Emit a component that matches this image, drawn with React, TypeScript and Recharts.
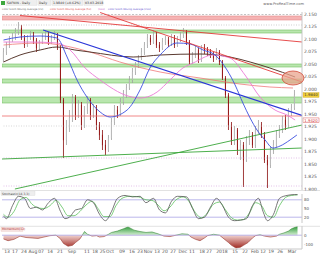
import React from 'react';
import { ComposedChart, Bar, Line, Area, XAxis, YAxis, ReferenceLine, ReferenceArea, ReferenceDot } from 'recharts';

// ---- price candles (daily) ----
const opens = [2.058,2.074,2.088,2.098,2.106,2.114,2.122,2.102,2.088,2.102,
2.108,2.098,2.082,2.094,2.104,2.108,2.094,2.102,2.106,2.082,
1.978,1.898,1.922,1.942,1.982,1.948,1.968,1.928,1.958,1.978,
1.948,1.962,1.928,1.908,1.888,1.878,1.902,1.934,1.958,1.950,
1.974,1.988,2.002,2.018,2.034,2.048,2.062,2.074,2.088,2.102,
2.094,2.108,2.088,2.082,2.094,2.098,2.090,2.102,2.088,2.098,
2.108,2.114,2.094,2.054,2.068,2.078,2.058,2.082,2.078,2.074,
2.068,2.062,2.074,2.054,2.022,1.988,1.928,1.898,1.918,1.878,
1.888,1.858,1.898,1.908,1.888,1.918,1.928,1.908,1.858,1.848,
1.878,1.888,1.908,1.918,1.938,1.928,1.954,1.962];
const closes = [2.074,2.088,2.098,2.106,2.114,2.122,2.102,2.088,2.102,2.108,
2.098,2.082,2.094,2.104,2.108,2.094,2.102,2.106,2.082,1.978,
1.898,1.922,1.942,1.982,1.948,1.968,1.928,1.958,1.978,1.948,
1.962,1.928,1.908,1.888,1.878,1.902,1.934,1.958,1.950,1.974,
1.988,2.002,2.018,2.034,2.048,2.062,2.074,2.088,2.102,2.094,
2.108,2.088,2.082,2.094,2.098,2.090,2.102,2.088,2.098,2.108,
2.114,2.094,2.054,2.068,2.078,2.058,2.082,2.078,2.074,2.068,
2.062,2.074,2.054,2.022,1.988,1.928,1.898,1.918,1.878,1.888,
1.858,1.898,1.908,1.888,1.918,1.928,1.908,1.858,1.848,1.878,
1.888,1.908,1.918,1.938,1.928,1.954,1.962,1.988];
const highs = [2.082,2.094,2.106,2.112,2.122,2.134,2.128,2.108,2.108,2.116,
2.114,2.102,2.098,2.112,2.118,2.114,2.108,2.116,2.112,2.088,
1.982,1.938,1.958,1.990,1.988,1.978,1.974,1.966,1.986,1.982,
1.970,1.968,1.934,1.918,1.898,1.908,1.942,1.968,1.966,1.982,
1.998,2.010,2.026,2.042,2.054,2.068,2.082,2.094,2.110,2.108,
2.118,2.114,2.094,2.102,2.106,2.104,2.110,2.108,2.106,2.114,
2.122,2.118,2.098,2.074,2.086,2.082,2.088,2.090,2.084,2.080,
2.074,2.082,2.078,2.058,2.026,1.992,1.934,1.926,1.922,1.898,
1.894,1.906,1.918,1.914,1.926,1.938,1.934,1.914,1.868,1.886,
1.898,1.918,1.928,1.946,1.948,1.962,1.970,1.998];
const lows = [2.054,2.068,2.082,2.094,2.098,2.108,2.098,2.082,2.084,2.098,
2.090,2.074,2.078,2.090,2.098,2.088,2.090,2.098,2.078,1.972,
1.862,1.888,1.914,1.934,1.938,1.942,1.918,1.922,1.950,1.938,
1.942,1.918,1.898,1.878,1.868,1.874,1.898,1.928,1.942,1.946,
1.968,1.982,1.998,2.012,2.028,2.042,2.058,2.068,2.082,2.088,
2.090,2.082,2.074,2.078,2.088,2.084,2.086,2.082,2.084,2.094,
2.102,2.088,2.048,2.050,2.062,2.052,2.054,2.070,2.066,2.062,
2.054,2.058,2.048,2.018,1.982,1.918,1.888,1.888,1.868,1.858,
1.804,1.854,1.888,1.882,1.882,1.910,1.902,1.852,1.802,1.842,
1.870,1.882,1.902,1.912,1.918,1.922,1.946,1.958];

// ---- moving averages (read at sample points) ----
const maBlueIdx = [0,5.5,12.2,17.8,21.2,24.5,27.8,32.2,35.5,41.2,45.5,48.8,52.2,57.8,62.2,66.5,70.5,74.5,77.2,79.8,82.2,84.5,87.2,89.8,92.2,95.5,97.8];
const maBlueVal = [2.098,2.104,2.106,2.102,2.064,2.018,1.984,1.954,1.944,1.958,1.998,2.042,2.068,2.092,2.090,2.078,2.068,2.038,2.008,1.972,1.942,1.918,1.898,1.882,1.886,1.898,1.908];
const maPinkIdx = [0,8.8,17.8,22.2,27.2,32.2,35.5,40.5,45.5,48.8,51.2,55.5,59.8,63.2,69.8,75.5,80.5,85.5,90.5,94.5,97.2];
const maPinkVal = [2.094,2.094,2.092,2.078,2.042,2.018,2.004,1.988,1.982,1.986,1.994,2.018,2.042,2.052,2.068,2.062,2.028,1.984,1.958,1.948,1.938];
const maDarkIdx = [0,5.5,12.2,17.8,23.8,28.8,43.2,52.2,65.5,75.5,82.2,88.8,97.2];
const maDarkVal = [2.054,2.068,2.078,2.084,2.078,2.074,2.064,2.068,2.070,2.064,2.054,2.042,2.024];
const maRedIdx = [0,12.2,18.8,28.8,38.8,52.2,65.5,78.8,88.8,96.5];
const maRedVal = [2.088,2.092,2.088,2.074,2.054,2.034,2.022,2.010,2.004,2.002];

// ---- stochastic ----
const stochKIdx = [0,1,3,5,7,9,11,13,15,17,19,20.5,22,24,26,28,30,32,34,36,38,40.5,43,45.5,47.5,50,52,54,56,58,61,63,65,67,69,71,73,75,77,79,81,83,85,86.5,88,90,92,94.5,97,98];
const stochKVal = [25,15,60,92,85,50,55,45,70,85,40,15,20,45,50,80,70,30,8,40,85,95,90,92,70,85,45,35,75,92,90,50,15,20,55,85,60,20,8,10,15,60,85,40,8,30,85,95,98,98];
const stochDIdx = [0,1.5,3.5,5.5,7.5,9.5,11.5,13.5,15.5,17.5,19.5,21.5,23.5,25.5,27.5,29.5,31.5,33.5,35.5,37.5,39.5,42,45,47.5,49.5,51.5,53.5,55.5,57.5,60,62,64,66,68,70,72,74,76,78,80,82,84,86,88,90,92,94,96,98];
const stochDVal = [30,20,40,80,88,65,52,50,60,78,55,25,25,40,62,75,50,22,22,60,85,92,90,80,78,62,42,55,80,90,72,35,18,35,65,72,45,18,10,12,35,70,60,25,20,60,88,95,97];

// ---- momentum ----
const momIdx = [0,1.5,3.5,5.5,7.5,9.5,11.5,13.5,15.5,17.5,19,20,21.5,23,24,25.5,27,28,29.5,31,32,33.5,35,36,38,40,41.5,43.5,45.5,47.5,49.5,51.5,53.5,55.5,57.5,59.5,61.5,62.5,64,65.5,67,68,70,72,73.5,75,76,77.5,79,80,81.5,83,84,85.5,87,89,91,92,93.5,95,96,97.5,98];
const momVal = [-40,-60,-45,-10,-25,-30,-35,-20,-5,0,-40,-90,-120,-110,-80,-40,40,10,-10,-5,-20,-15,10,30,45,70,90,55,40,30,35,15,-10,-15,0,15,10,-20,-45,-60,-30,-5,10,0,-40,-80,-110,-140,-130,-110,-80,-30,-5,5,-10,-20,-10,10,25,45,70,90,95];

// ---- axis ticks ----
const priceTicks = [2.150,2.125,2.100,2.075,2.050,2.025,2.000,1.975,1.950,1.925,1.900,1.875,1.850,1.825,1.800];
const dateTickIdx = [1.2,3.8,6.8,9.8,12.5,15.5,18.8,22.8,27.8,30.5,33,35.5,39.5,42.8,45.5,48.2,51.2,53.8,56.5,59.8,62.8,66.2,68.5,72.8,77.2,80.5,83.8,86.5,89.2,92.2,96.2];
const dateTickLabels = ["13","17","24","Aug","07","14","21","Sep","11","18","25","Oct","09","16","23","Nov","13","20","27","Dec","11","18","27","2018","15","22","Feb","12","19","26","Mar"];

const candles = closes.map((c, i) => ({ i, open: opens[i], high: highs[i], low: lows[i], close: c }));
const pts = (idx: number[], val: number[]) => idx.map((x, k) => ({ i: x, v: val[k] }));
const maBlue = pts(maBlueIdx, maBlueVal);
const maPink = pts(maPinkIdx, maPinkVal);
const maDark = pts(maDarkIdx, maDarkVal);
const maRed = pts(maRedIdx, maRedVal);
const stochK = pts(stochKIdx, stochKVal);
const stochD = pts(stochDIdx, stochDVal);
const mom = pts(momIdx, momVal);
const dateLabelMap = new Map(dateTickIdx.map((x, k) => [x, dateTickLabels[k]]));

const X_DOMAIN: [number, number] = [-0.5, 99.5];
const FONT = 'DejaVu Sans, sans-serif';

const Candle = (props: any) => {
  const { x, y, width, height, payload } = props;
  if (!payload || height == null) return null;
  const { open, close, high, low } = payload;
  const range = high - low || 1e-9;
  const ppu = height / range;
  const up = close >= open;
  const top = y + (high - Math.max(open, close)) * ppu;
  const bh = Math.max(1, Math.abs(open - close) * ppu);
  const cx = x + width / 2;
  const col = up ? '#a0a0a0' : '#8a0c0c';
  return (
    <g>
      <line x1={cx} x2={cx} y1={y} y2={y + height} stroke={col} strokeWidth={0.8} />
      <rect x={x} y={top} width={width} height={bh} fill={up ? '#efefef' : '#a81818'} stroke={col} strokeWidth={0.5} />
    </g>
  );
};

const LevelTag = ({ viewBox, text, bg, fg, border }: any) => {
  if (!viewBox) return null;
  const x = viewBox.x + viewBox.width + 1;
  const y = viewBox.y;
  return (
    <g>
      <rect x={x} y={y - 2.3} width={16} height={4.6} fill={bg} stroke={border} strokeWidth={0.4} />
      <text x={x + 8} y={y + 1.4} fontSize={3.8} fill={fg} textAnchor="middle" fontFamily={FONT}>{text}</text>
    </g>
  );
};

const Ellipse = (p: any) => (
  <ellipse cx={p.cx} cy={p.cy} rx={11} ry={7} fill="#e9a48e" fillOpacity={0.75} stroke="#d24a3a" strokeWidth={0.8} />
);

const greenBand = { fill: '#b9e6ae', fillOpacity: 1, stroke: '#74c062', strokeWidth: 0.6 };

export default function App() {
  return (
    <div style={{ position: 'absolute', left: 0, top: 0, width: 320, height: 256, background: '#fff', overflow: 'hidden' }}>
      <svg width={0} height={0} style={{ position: 'absolute' }}>
        <defs>
          <linearGradient id="momFill" x1="0" y1="0" x2="0" y2="1">
            <stop offset="0" stopColor="#2e9a3a" stopOpacity={1} />
            <stop offset="0.404" stopColor="#d6efd2" stopOpacity={1} />
            <stop offset="0.404" stopColor="#f1d3d0" stopOpacity={1} />
            <stop offset="1" stopColor="#a02a22" stopOpacity={1} />
          </linearGradient>
          <linearGradient id="momStroke" x1="0" y1="0" x2="0" y2="1">
            <stop offset="0.404" stopColor="#3b8a3b" />
            <stop offset="0.404" stopColor="#9a3a32" />
          </linearGradient>
        </defs>
      </svg>

      {/* main price panel */}
      <div style={{ position: 'absolute', left: 0, top: 0 }}>
        <ComposedChart width={320} height={192} data={candles} margin={{ top: 12, right: 0, bottom: 2, left: 2 }}>
          <XAxis dataKey="i" type="number" domain={X_DOMAIN} hide allowDataOverflow />
          <YAxis orientation="right" type="number" domain={[1.798, 2.154]} ticks={priceTicks} interval={0}
            tickFormatter={(v: number) => v.toFixed(3)} width={18} tick={{ fontSize: 4.5, fill: '#555', fontFamily: FONT }}
            tickSize={0} tickMargin={2} axisLine={{ stroke: '#c8c8c8' }} allowDataOverflow />

          <ReferenceArea y1={2.138} y2={2.146} fill="#f5b3b3" fillOpacity={1} stroke="#e58c8c" strokeWidth={0.6} ifOverflow="hidden" />
          <ReferenceArea y1={2.112} y2={2.118} {...greenBand} ifOverflow="hidden" />
          <ReferenceArea y1={2.044} y2={2.050} {...greenBand} ifOverflow="hidden" />
          <ReferenceArea y1={2.012} y2={2.020} {...greenBand} ifOverflow="hidden" />
          <ReferenceArea y1={1.972} y2={1.984} {...greenBand} ifOverflow="hidden" />

          <ReferenceLine y={2.149} stroke="#9a9a9a" strokeDasharray="2 1.5" strokeWidth={0.6} />
          <ReferenceLine y={2.128} stroke="#b0b0b0" strokeDasharray="1 1.5" strokeWidth={0.6} />
          <ReferenceLine y={1.926} stroke="#bcbcbc" strokeDasharray="1 1.5" strokeWidth={0.6} />
          <ReferenceLine y={1.862} stroke="#d7a6e0" strokeDasharray="1 1.5" strokeWidth={0.7} />
          <ReferenceLine y={1.806} stroke="#d7a6e0" strokeDasharray="1 1.5" strokeWidth={0.7} />
          <ReferenceLine y={1.946} stroke="#ee6a6a" strokeWidth={0.8} />

          <ReferenceLine segment={[{ x: 3.8, y: 1.800 }, { x: 99.5, y: 1.928 }]} stroke="#3aa63a" strokeWidth={0.9} ifOverflow="hidden" />
          <ReferenceLine segment={[{ x: -0.5, y: 1.860 }, { x: 99.5, y: 1.882 }]} stroke="#3aa63a" strokeWidth={0.9} ifOverflow="hidden" />

          <Line data={maRed} dataKey="v" type="monotone" stroke="#f07878" strokeWidth={0.8} dot={false} isAnimationActive={false} />
          <Line data={maDark} dataKey="v" type="monotone" stroke="#5a3a30" strokeWidth={1} dot={false} isAnimationActive={false} />
          <Line data={maPink} dataKey="v" type="monotone" stroke="#ec7ad6" strokeWidth={0.9} dot={false} isAnimationActive={false} />
          <Line data={maBlue} dataKey="v" type="monotone" stroke="#3b4fe0" strokeWidth={0.9} dot={false} isAnimationActive={false} />

          <ReferenceLine segment={[{ x: 5.5, y: 2.147 }, { x: 99.5, y: 2.094 }]} stroke="#e43a3a" strokeWidth={0.9} ifOverflow="hidden" />
          <ReferenceLine segment={[{ x: 32.2, y: 2.153 }, { x: 99.5, y: 2.014 }]} stroke="#e43a3a" strokeWidth={0.9} ifOverflow="hidden" />
          <ReferenceLine segment={[{ x: 13.2, y: 2.118 }, { x: 99.5, y: 1.947 }]} stroke="#2a36d8" strokeWidth={1.2} ifOverflow="hidden" />

          <Bar dataKey={(d: any) => [d.low, d.high]} shape={<Candle />} barSize={2} isAnimationActive={false} />

          <ReferenceDot x={96.5} y={2.022} r={7} shape={<Ellipse />} ifOverflow="visible" />

          <ReferenceLine y={1.988} stroke="none" label={<LevelTag text="1.9840" bg="#f2cf3a" fg="#333" border="#c9a520" />} />
          <ReferenceLine y={1.9375} stroke="none" label={<LevelTag text="1.9420" bg="#ffffff" fg="#d03030" border="#d03030" />} />
        </ComposedChart>
      </div>

      {/* stochastic panel */}
      <div style={{ position: 'absolute', left: 0, top: 190 }}>
        <ComposedChart width={320} height={36} data={stochK} margin={{ top: 4, right: 0, bottom: 3, left: 2 }}>
          <XAxis dataKey="i" type="number" domain={X_DOMAIN} hide allowDataOverflow />
          <YAxis orientation="right" type="number" domain={[0, 100]} ticks={[20, 50, 80]} interval={0} width={18}
            tick={{ fontSize: 4, fill: '#555', fontFamily: FONT }} tickSize={0} tickMargin={2} axisLine={{ stroke: '#c8c8c8' }} allowDataOverflow />
          <ReferenceLine y={80} stroke="#aaa4e6" strokeWidth={0.8} />
          <ReferenceLine y={20} stroke="#aaa4e6" strokeWidth={0.8} />
          <Line data={stochD} dataKey="v" type="monotone" stroke="#5cc05c" strokeWidth={0.8} dot={false} isAnimationActive={false} />
          <Line data={stochK} dataKey="v" type="monotone" stroke="#555555" strokeWidth={0.8} dot={false} isAnimationActive={false} />
        </ComposedChart>
      </div>

      {/* momentum panel */}
      <div style={{ position: 'absolute', left: 0, top: 226 }}>
        <ComposedChart width={320} height={30} data={mom} margin={{ top: 0, right: 0, bottom: 0, left: 2 }}>
          <XAxis dataKey="i" type="number" domain={X_DOMAIN} ticks={dateTickIdx} interval={0} height={7}
            tickFormatter={(v: number) => dateLabelMap.get(v) ?? ''} tick={{ fontSize: 4.5, fill: '#555', fontFamily: FONT }}
            tickSize={0} tickMargin={1} axisLine={{ stroke: '#c8c8c8' }} allowDataOverflow />
          <YAxis orientation="right" type="number" domain={[-150, 100]} ticks={[0, -100]} interval={0} width={18}
            tick={{ fontSize: 4, fill: '#555', fontFamily: FONT }} tickSize={0} tickMargin={2} axisLine={{ stroke: '#c8c8c8' }} allowDataOverflow />
          <Area dataKey="v" type="linear" fill="url(#momFill)" fillOpacity={1} stroke="url(#momStroke)" strokeWidth={0.6} isAnimationActive={false} />
          <ReferenceLine y={0} stroke="#aaa4e6" strokeWidth={0.8} />
        </ComposedChart>
      </div>

      {/* header and panel captions */}
      <svg width={320} height={256} style={{ position: 'absolute', left: 0, top: 0, pointerEvents: 'none' }} fontFamily={FONT}>
        <rect x={1} y={1} width={4} height={4} fill="#3fa83f" />
        <rect x={6} y={0.8} width={31} height={4.6} fill="#eeeeee" stroke="#cfcfcf" strokeWidth={0.3} />
        <text x={7} y={4.2} fontSize={3.2} fill="#333">SAFNIN - Daily</text>
        <rect x={38} y={0.8} width={13} height={4.6} fill="#eeeeee" stroke="#cfcfcf" strokeWidth={0.3} />
        <text x={39} y={4.2} fontSize={3.2} fill="#333">Daily</text>
        <rect x={52} y={0.8} width={31} height={4.6} fill="#eeeeee" stroke="#cfcfcf" strokeWidth={0.3} />
        <text x={53} y={4.2} fontSize={3.2} fill="#333">1.9840 (+0.62%)</text>
        <rect x={84} y={0.8} width={19} height={4.6} fill="#eeeeee" stroke="#cfcfcf" strokeWidth={0.3} />
        <text x={85} y={4.2} fontSize={3.2} fill="#333">03.03.2018</text>
        <text x={2} y={10} fontSize={2.5} fill="#666">Color Stoch Moving Average (20)</text>
        <text x={50} y={10} fontSize={2.5} fill="#e04848">Color Stoch Moving Average (50)</text>
        <text x={98} y={10} fontSize={2.5} fill="#c050c0">(100)</text>
        <text x={108} y={10} fontSize={2.5} fill="#6050d0">Color Stoch Moving Average (200)</text>
        <text x={304} y={4.5} fontSize={3.6} fill="#666" textAnchor="end">www.ProRealTime.com</text>
        <line x1={0} x2={320} y1={190.5} y2={190.5} stroke="#cfcfcf" strokeWidth={0.6} />
        <line x1={0} x2={320} y1={226.3} y2={226.3} stroke="#cfcfcf" strokeWidth={0.6} />
        <rect x={1} y={191.5} width={34} height={4} fill="#eeeeee" stroke="#cfcfcf" strokeWidth={0.3} />
        <text x={2} y={194.6} fontSize={3} fill="#444">Stochastic(14,3,3)</text>
        <rect x={1} y={227.2} width={22} height={4} fill="#f6e2e0" stroke="#e0b0aa" strokeWidth={0.3} />
        <text x={2} y={230.3} fontSize={3} fill="#b03030">Momentum(12)</text>
      </svg>
    </div>
  );
}
